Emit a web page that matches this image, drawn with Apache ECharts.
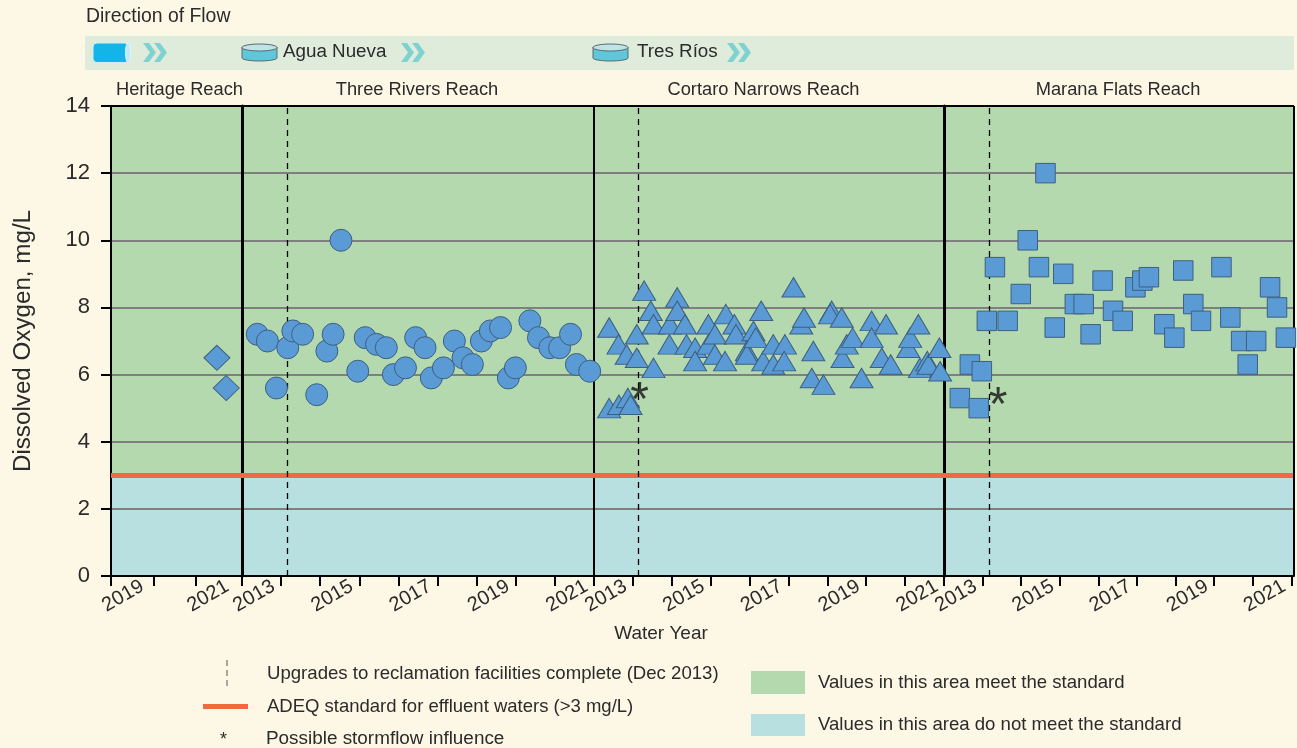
<!DOCTYPE html>
<html><head><meta charset="utf-8">
<style>html,body{margin:0;padding:0;background:#fdf7e5}#c{width:1297px;height:748px}</style>
<script src="https://cdn.jsdelivr.net/npm/echarts@6/dist/echarts.min.js"></script></head>
<body><div id="c"></div>
<script>
const FONT = '"Liberation Sans", Arial, sans-serif';
const INK = '#2b2b2b';
const reachNames = ['Heritage Reach', 'Three Rivers Reach', 'Cortaro Narrows Reach', 'Marana Flats Reach'];
const yTicks = [0, 2, 4, 6, 8, 10, 12, 14];
const standard = 3;
const upgradeYear = [null, 2014.15, 2014.13, 2014.17];
const heritageTicks = [2019, 2020, 2021];
const reachTicks = [2013, 2014, 2015, 2016, 2017, 2018, 2019, 2020, 2021, 2022];
const heritageLabels = [2019, 2021];
const reachLabels = [2013, 2015, 2017, 2019, 2021];

const heritageYears = [2021.49, 2021.71];
const heritageDO = [6.5, 5.6];

const threeRiversYears = [2013.39,2013.65,2013.88,2014.17,2014.30,2014.55,2014.91,2015.17,2015.33,2015.53,2015.96,2016.15,2016.44,2016.69,2016.87,2017.18,2017.44,2017.68,2017.84,2018.15,2018.43,2018.65,2018.89,2019.12,2019.35,2019.61,2019.81,2019.99,2020.36,2020.58,2020.87,2021.12,2021.40,2021.55,2021.89];
const threeRiversDO = [7.2,7.0,5.6,6.8,7.3,7.2,5.4,6.7,7.2,10.0,6.1,7.1,6.9,6.8,6.0,6.2,7.1,6.8,5.9,6.2,7.0,6.5,6.3,7.0,7.3,7.4,5.9,6.2,7.6,7.1,6.8,6.8,7.2,6.3,6.1];

const cortaroYears = [2013.39,2013.63,2013.84,2014.10,2014.10,2014.29,2014.46,2014.53,2014.53,2013.39,2013.64,2013.87,2013.94,2014.94,2014.95,2015.14,2015.14,2015.34,2015.38,2015.60,2015.60,2015.94,2015.94,2016.11,2016.11,2016.37,2016.39,2016.61,2016.65,2016.93,2016.93,2017.10,2017.16,2017.30,2017.35,2017.61,2017.61,2017.91,2017.89,2018.13,2018.33,2018.40,2018.64,2018.60,2018.90,2019.11,2019.07,2019.37,2019.39,2019.50,2019.65,2019.88,2020.14,2020.14,2020.40,2020.51,2020.63,2021.08,2021.13,2021.34,2021.38,2021.57,2021.60,2021.88,2021.90];
const cortaroDO = [7.4,6.9,6.6,7.2,6.5,8.5,7.9,7.5,6.2,5.0,5.1,5.3,5.1,6.9,7.5,8.3,7.9,7.5,6.9,6.8,6.4,7.5,6.9,7.2,6.6,6.4,7.8,7.5,7.2,6.7,6.6,7.3,7.1,7.9,6.4,6.9,6.3,6.9,6.4,8.6,7.5,7.7,6.7,5.9,5.7,7.9,7.8,7.7,6.5,6.9,7.1,5.9,7.6,7.1,6.5,7.5,6.3,6.8,7.1,7.5,6.2,6.4,6.3,6.8,6.1];

const maranaYears = [2013.41,2013.67,2013.90,2013.98,2014.11,2014.32,2014.65,2014.99,2015.17,2015.46,2015.63,2015.87,2016.09,2016.39,2016.62,2016.80,2017.11,2017.38,2017.63,2017.96,2018.14,2018.31,2018.71,2018.97,2019.20,2019.46,2019.66,2020.19,2020.42,2020.70,2020.87,2021.09,2021.45,2021.63,2021.86];
const maranaDO = [5.3,6.3,5.0,6.1,7.6,9.2,7.6,8.4,10.0,9.2,12.0,7.4,9.0,8.1,8.1,7.2,8.8,7.9,7.6,8.6,8.8,8.9,7.5,7.1,9.1,8.1,7.6,9.2,7.7,7.0,6.3,7.0,8.6,8.0,7.1];

const stormYears = [null, null, 2014.17, 2014.40];
const stormDO = [null, null, 5.5, 5.35];

const grids = [
  {left:111, width:131, min:2019, max:2022.08, ticks:heritageTicks, labels:heritageLabels, xs:heritageYears, ys:heritageDO, symbol:'diamond', size:[26,25], axisW:2},
  {left:242, width:352, min:2013, max:2022, ticks:reachTicks, labels:reachLabels, xs:threeRiversYears, ys:threeRiversDO, symbol:'circle', size:22, axisW:3},
  {left:594, width:350, min:2013, max:2022, ticks:reachTicks, labels:reachLabels, xs:cortaroYears, ys:cortaroDO, symbol:'triangle', size:[23,19.5], axisW:2},
  {left:944, width:350, min:2013, max:2022.07, ticks:reachTicks, labels:reachLabels, xs:maranaYears, ys:maranaDO, symbol:'rect', size:19.5, axisW:3}
];
const TOP = 106, HEIGHT = 470;
const option = {
  animation:false, backgroundColor:'#fdf7e5', textStyle:{fontFamily:FONT},
  grid:[], xAxis:[], yAxis:[], series:[]
};
grids.forEach((g,i)=>{
  option.grid.push({left:g.left, width:g.width, top:TOP, height:HEIGHT, containLabel:false});
  option.xAxis.push({type:'value', gridIndex:i, min:g.min, max:g.max,
    axisLine:{show:true,onZero:false,lineStyle:{color:'#000',width:2}},
    axisTick:{show:true,length:10,customValues:g.ticks,lineStyle:{color:'#000',width:2}},
    splitLine:{show:false},
    axisLabel:{show:true,rotate:30,align:'center',verticalAlign:'middle',margin:27,padding:[0,0,0,28],
      fontSize:20,color:INK,fontFamily:FONT,hideOverlap:false,customValues:g.labels,
      formatter:v=>String(v)}
  });
  option.yAxis.push({type:'value', gridIndex:i, min:0, max:14, interval:2,
    name:i===0?'Dissolved Oxygen, mg/L':'', nameLocation:'middle', nameGap:76, nameRotate:90,
    nameTextStyle:{fontSize:24.2,color:INK,fontFamily:FONT},
    axisLine:{show:true,onZero:false,lineStyle:{color:'#000',width:g.axisW}},
    axisTick:{show:i===0,length:10,lineStyle:{color:'#000',width:2}},
    axisLabel:{show:i===0,fontSize:22,color:INK,margin:21,fontFamily:FONT,verticalAlign:'middle',padding:[8,0,0,0],
      formatter:v=>yTicks.includes(v)?String(v):''},
    splitLine:{show:true,lineStyle:{color:'#7f7f7f',width:2}}
  });
  option.series.push({type:'scatter', xAxisIndex:i, yAxisIndex:i, data:[], z:-1, silent:true,
    markArea:{silent:true, z:-1, itemStyle:{opacity:1}, data:[
      [{yAxis:standard,itemStyle:{color:'#b5d9ae',opacity:1}},{yAxis:14}],
      [{yAxis:0,itemStyle:{color:'#b9e0e0',opacity:1}},{yAxis:standard}]
    ]}
  });
  const lines = [
    {yAxis:standard, lineStyle:{color:'#f26840',width:5,type:'solid'}},
    {yAxis:14, lineStyle:{color:'#000',width:2,type:'solid'}}
  ];
  if(upgradeYear[i]) lines.push({xAxis:upgradeYear[i], lineStyle:{color:'#000',width:1.3,type:[6,5]}});
  if(i===3) lines.push({xAxis:g.max, lineStyle:{color:'#000',width:2,type:'solid'}});
  option.series.push({type:'scatter', xAxisIndex:i, yAxisIndex:i, data:[], z:1, silent:true,
    markLine:{silent:true, symbol:'none', z:1, label:{show:false}, precision:4, data:lines}});
});
grids.forEach((g,i)=>{
  option.series.push({type:'scatter', xAxisIndex:i, yAxisIndex:i, clip:false, z:3,
    symbol:g.symbol, symbolSize:g.size,
    itemStyle:{color:'#5b9bd5',borderColor:'#3e5f80',borderWidth:1,opacity:1},
    data:g.xs.map((x,k)=>[x,g.ys[k]])});
  if(stormYears[i]) option.series.push({type:'scatter', xAxisIndex:i, yAxisIndex:i, clip:false, z:4,
    symbolSize:1, itemStyle:{color:'transparent',borderWidth:0},
    label:{show:true,position:'inside',formatter:'*',fontSize:48,color:'#111',fontFamily:FONT,offset:[0,10]},
    data:[[stormYears[i],stormDO[i]]]});
});
const fnt=s=>s+'px '+FONT;
const txt=(x,y,t,size,o={})=>({type:'text',x,y,silent:true,z:10,
  style:Object.assign({text:t,fill:INK,font:fnt(size),textAlign:'left',textVerticalAlign:'middle'},o)});
const chevrons=(x)=>[0,11].map(d=>({type:'polygon',silent:true,z:10,shape:{points:[[x+d,43],[x+d+6,43],[x+d+13,52.5],[x+d+6,62],[x+d,62],[x+d+7,52.5]]},style:{fill:'#7fd2cf'}}));
const tank=(x)=>[
  {type:'ellipse',silent:true,z:10,shape:{cx:x+17.5,cy:58,rx:17.5,ry:3},style:{fill:'#5fc7d9',stroke:'#5a6a6c',lineWidth:1}},
  {type:'rect',silent:true,z:10,shape:{x:x,y:47,width:35,height:11},style:{fill:'#5fc7d9'}},
  {type:'line',silent:true,z:10,shape:{x1:x,y1:47,x2:x,y2:58},style:{stroke:'#5a6a6c',lineWidth:1}},
  {type:'line',silent:true,z:10,shape:{x1:x+35,y1:47,x2:x+35,y2:58},style:{stroke:'#5a6a6c',lineWidth:1}},
  {type:'ellipse',silent:true,z:10,shape:{cx:x+17.5,cy:47.5,rx:17.5,ry:3.5},style:{fill:'#bfe3e6',stroke:'#5a6a6c',lineWidth:1}}
];
option.graphic={elements:[
  txt(86,16.5,'Direction of Flow',19.4),
  {type:'rect',silent:true,z:9,shape:{x:85,y:36,width:1209,height:34},style:{fill:'#dfecdc'}},
  {type:'rect',silent:true,z:10,shape:{x:93,y:43,width:36,height:19.5,r:4},style:{fill:'#12b5e8',stroke:'#cfeefa',lineWidth:1}},
  {type:'ellipse',silent:true,z:10,shape:{cx:128,cy:52.7,rx:2.5,ry:9.7},style:{fill:'#bfe9f7',stroke:'#e4f6fc',lineWidth:1}},
  ...chevrons(143),...chevrons(401),...chevrons(727),
  ...tank(242),...tank(593),
  txt(283,51.5,'Agua Nueva',18.8),txt(637,51.5,'Tres Ríos',18.8),
  txt(179.5,89.5,reachNames[0],18.3,{textAlign:'center'}),
  txt(417,89.5,reachNames[1],18.3,{textAlign:'center'}),
  txt(763.5,89.5,reachNames[2],18.3,{textAlign:'center'}),
  txt(1118,89.5,reachNames[3],18.3,{textAlign:'center'}),
  txt(661,633.5,'Water Year',19,{textAlign:'center'}),
  {type:'line',silent:true,z:10,shape:{x1:227,y1:660,x2:227,y2:686},style:{stroke:'#555',lineWidth:1,lineDash:[6,4]}},
  {type:'rect',silent:true,z:10,shape:{x:203,y:704,width:45,height:5},style:{fill:'#f26840'}},
  txt(223.5,740,'*',18,{textAlign:'center'}),
  txt(267,673.5,'Upgrades to reclamation facilities complete (Dec 2013)',18.6),
  txt(267,706.5,'ADEQ standard for effluent waters (>3 mg/L)',18.5),
  txt(266,738.5,'Possible stormflow influence',18.9),
  {type:'rect',silent:true,z:10,shape:{x:751,y:671,width:54,height:23},style:{fill:'#b5d9ae'}},
  {type:'rect',silent:true,z:10,shape:{x:751,y:714,width:54,height:22},style:{fill:'#b9e0e0'}},
  txt(818,682.5,'Values in this area meet the standard',18.6),
  txt(818,724.5,'Values in this area do not meet the standard',18.6)
]};
echarts.init(document.getElementById('c'),null,{renderer:'canvas'}).setOption(option);
</script></body></html>
